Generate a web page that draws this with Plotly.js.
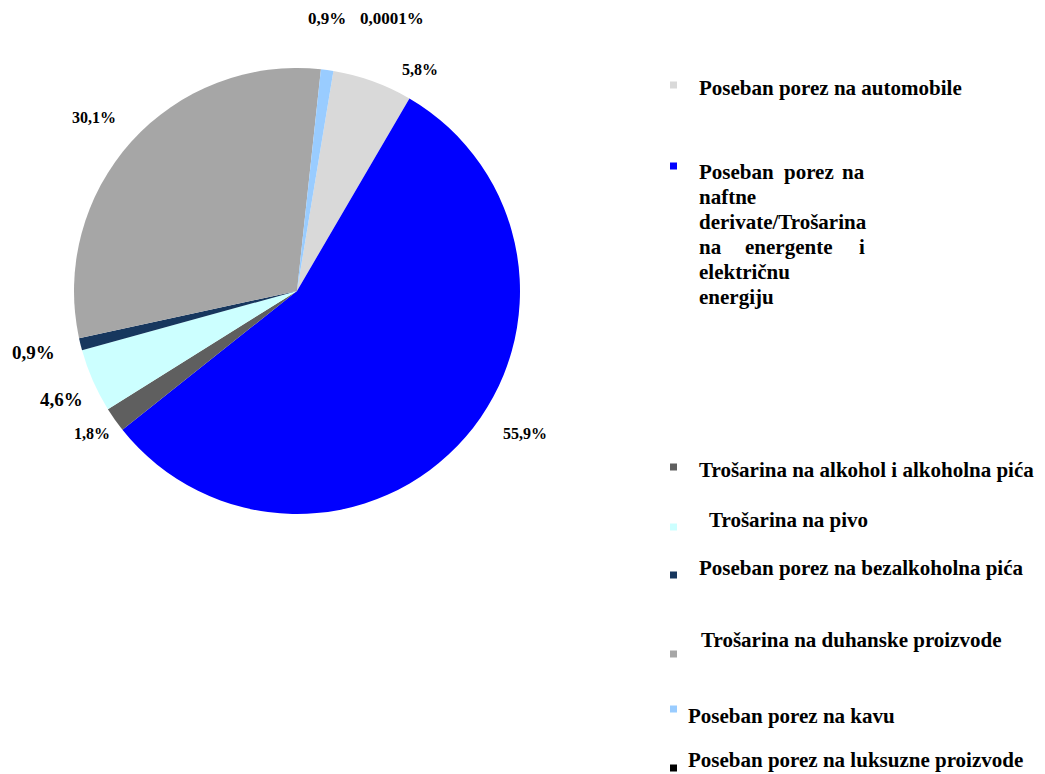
<!DOCTYPE html>
<html>
<head>
<meta charset="utf-8">
<script src="https://cdn.plot.ly/plotly-3.0.1.min.js"></script>
<style>html,body{margin:0;padding:0;background:#fff;}#chart{width:1045px;height:774px;}</style>
</head>
<body>
<div id="chart"></div>
<script>
// Data
const categories = [
  "Poseban porez na automobile",
  "Poseban porez na naftne derivate/Trošarina na energente i električnu energiju",
  "Trošarina na alkohol i alkoholna pića",
  "Trošarina na pivo",
  "Poseban porez na bezalkoholna pića",
  "Trošarina na duhanske proizvode",
  "Poseban porez na kavu",
  "Poseban porez na luksuzne proizvode"
];
const shares = [5.8, 55.9, 1.8, 4.6, 0.9, 30.1, 0.9, 0.0001];
const shareLabels = ["5,8%", "55,9%", "1,8%", "4,6%", "0,9%", "30,1%", "0,9%", "0,0001%"];
const colors = ["#D9D9D9", "#0000FF", "#5F5F5F", "#CCFFFF", "#17375E", "#A6A6A6", "#99CCFF", "#000000"];

// Layout helpers (pixel positions)
const W = 1045, H = 774;
const px = x => x / W, py = y => 1 - y / H;
const labelPos = [[420,70],[525,433],[92,434],[61,400],[33,352],[94,117],[327,18],[392,18]];
const labelSize = [16,16,16,19,19,16,17,17];
const legendMarker = [85,166,467,527,575,654,709,768];
// [x, y, anchor, text]
const legendText = [
  [698, 88, "left", "Poseban porez na automobile"],
  [698, 172, "left", "Poseban"], [809, 172, "center", "porez"], [866, 172, "right", "na"],
  [698, 197, "left", "naftne"],
  [698, 222, "left", "derivate/Trošarina"],
  [698, 247, "left", "na"], [788, 247, "center", "energente"], [866, 247, "right", "i"],
  [698, 272, "left", "električnu"],
  [698, 297, "left", "energiju"],
  [698, 470, "left", "Trošarina na alkohol i alkoholna pića"],
  [708, 520, "left", "Trošarina na pivo"],
  [698, 568, "left", "Poseban porez na bezalkoholna pića"],
  [700, 640, "left", "Trošarina na duhanske proizvode"],
  [687, 716, "left", "Poseban porez na kavu"],
  [687, 760, "left", "Poseban porez na luksuzne proizvode"]
];

const font = "Liberation Serif, Times New Roman, serif";

const trace = {
  type: "pie",
  labels: categories,
  values: shares,
  marker: {colors: colors, line: {width: 0}},
  sort: false,
  direction: "clockwise",
  rotation: 9.4,
  textinfo: "none",
  hoverinfo: "label+percent",
  showlegend: false,
  domain: {x: [px(74), px(520)], y: [py(514), py(68)]}
};

const annotations = [];
shareLabels.forEach((t, i) => {
  annotations.push({
    xref: "paper", yref: "paper",
    x: px(labelPos[i][0]), y: py(labelPos[i][1]),
    xanchor: "center", yanchor: "middle",
    text: "<b>" + t + "</b>", showarrow: false,
    font: {family: font, size: labelSize[i], color: "#000"}
  });
});
legendText.forEach(l => {
  annotations.push({
    xref: "paper", yref: "paper",
    x: px(l[0]), y: py(l[1]),
    xanchor: l[2], yanchor: "middle",
    text: "<b>" + l[3] + "</b>", showarrow: false,
    borderpad: 0,
    font: {family: font, size: 21, color: "#000"}
  });
});

const shapes = legendMarker.map((y, i) => ({
  type: "rect", xref: "paper", yref: "paper",
  x0: px(670), x1: px(677), y0: py(y - 3.5), y1: py(y + 3.5),
  fillcolor: colors[i], line: {width: 0}
}));

const layout = {
  width: W, height: H,
  margin: {l: 0, r: 0, t: 0, b: 0},
  paper_bgcolor: "#fff",
  showlegend: false,
  annotations: annotations,
  shapes: shapes
};

Plotly.newPlot("chart", [trace], layout, {displayModeBar: false, staticPlot: true});
</script>
</body>
</html>
